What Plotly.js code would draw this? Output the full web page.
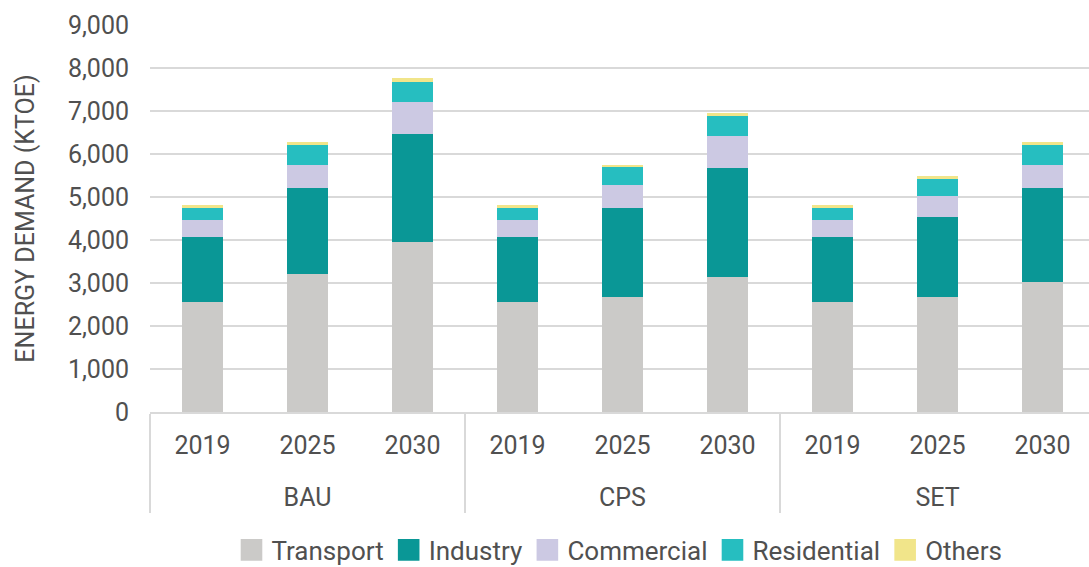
<!DOCTYPE html>
<html>
<head>
<meta charset="utf-8">
<script src="https://cdn.plot.ly/plotly-3.0.1.min.js"></script>
<style>html,body{margin:0;padding:0;background:#fff;}#chart{width:1089px;height:567px;}</style>
</head>
<body>
<div id="chart"></div>
<script>
const scenarios = ["BAU","BAU","BAU","CPS","CPS","CPS","SET","SET","SET"];
const years = ["2019","2025","2030","2019","2025","2030","2019","2025","2030"];
const transport   = [2550, 3220, 3945, 2550, 2680, 3150, 2550, 2680, 3020];
const industry    = [1525, 1990, 2530, 1525, 2065, 2530, 1525, 1865, 2190];
const commercial  = [400, 540, 740, 400, 535, 735, 400, 470, 540];
const residential = [265, 470, 465, 265, 410, 465, 265, 395, 470];
const others      = [75, 62, 78, 75, 62, 78, 75, 68, 62];
const seriesNames = ["Transport","Industry","Commercial","Residential","Others"];
const seriesData = [transport, industry, commercial, residential, others];
const colors = ["#CBCAC8","#0A9796","#CCC9E3","#26BEC0","#F1E58A"];

const font = {family: "Roboto, 'Liberation Sans', sans-serif", size: 25, color: "#505050"};
const legendFont = {family: font.family, size: 26, color: font.color};

// inner labels get a small blank second line to push the group labels lower
const yearLabels = years.map(y => y + "<br><span style='font-size:17px'>\u00a0</span>");

const traces = seriesNames.map((n, i) => ({
  type: "bar",
  name: n,
  x: [scenarios, yearLabels],
  y: seriesData[i],
  marker: {color: colors[i], line: {width: 0}},
  hoverinfo: "skip"
}));

const layout = {
  width: 1089, height: 567,
  barmode: "stack",
  bargap: 0.615,
  margin: {l: 150, r: 0, t: 25, b: 155},
  paper_bgcolor: "#fff",
  plot_bgcolor: "#fff",
  font: font,
  showlegend: true,
  legend: {
    orientation: "h", xref: "paper", x: 0.5, xanchor: "center",
    yref: "container", y: 0.03, yanchor: "middle",
    font: legendFont, traceorder: "normal"
  },
  xaxis: {
    type: "multicategory",
    automargin: false,
    range: [-0.5, 8.443],
    showline: true, linecolor: "#D9D9D9", linewidth: 2,
    showdividers: true, dividercolor: "#D9D9D9", dividerwidth: 2,
    tickfont: font,
    ticklabelstandoff: 10,
    ticks: ""
  },
  yaxis: {
    automargin: false,
    range: [0, 9000],
    dtick: 1000,
    tickformat: ",d",
    showgrid: true, gridcolor: "#D9D9D9", gridwidth: 2,
    zeroline: false, showline: false,
    ticks: "",
    ticklabelstandoff: 20,
    tickfont: font,
    title: {text: "ENERGY DEMAND (KTOE)", font: font, standoff: 26}
  }
};

Plotly.newPlot("chart", traces, layout, {staticPlot: true, displayModeBar: false}).then(() => {
  document.querySelectorAll("#chart .legend .legendpoints path").forEach(p => {
    const t = p.getAttribute("transform") || "";
    p.setAttribute("transform", t + " scale(1.8)");
  });
});
</script>
</body>
</html>
